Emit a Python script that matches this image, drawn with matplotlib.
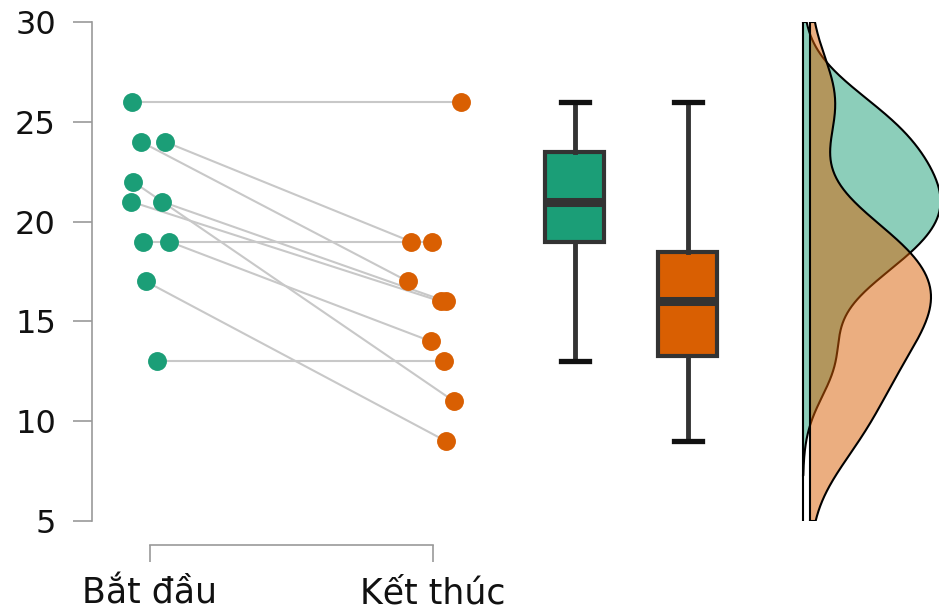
import numpy as np
import matplotlib
matplotlib.use("Agg")
import matplotlib.pyplot as plt

# ---- data ----
groups = ["Bắt đầu", "Kết thúc"]
start_vals = [26, 24, 24, 22, 21, 21, 19, 19, 17, 13]
end_vals = [26, 17, 19, 11, 16, 16, 19, 14, 9, 13]
start_jitter = [-0.064, -0.032, 0.053, -0.060, -0.067, 0.042, -0.025, 0.067, -0.014, 0.025]
end_jitter = [0.099, -0.088, -0.078, 0.074, 0.028, 0.046, -0.004, -0.007, 0.046, 0.039]
y_ticks = [5, 10, 15, 20, 25, 30]

green = "#1b9e77"
orange = "#d95f02"

plt.rcParams['font.family'] = ['DejaVu Sans']

fig = plt.figure(figsize=(9.39, 6.12), dpi=100)
W, H = 939, 612
ax = fig.add_axes([92 / W, (H - 521) / H, (939 - 92) / W, (521 - 22) / H])

ppu = 283.0
ax.set_xlim(1 - 58 / ppu, 1 + 789 / ppu)
ax.set_ylim(5, 30)

# paired lines
xs1 = 1 + np.array(start_jitter)
xs2 = 2 + np.array(end_jitter)
for a, b, ya, yb in zip(xs1, xs2, start_vals, end_vals):
    ax.plot([a, b], [ya, yb], color="#c8c8c8", lw=1.5, zorder=1, solid_capstyle="butt")
ax.scatter(xs1, start_vals, s=185, color=green, zorder=3, linewidths=0)
ax.scatter(xs2, end_vals, s=185, color=orange, zorder=3, linewidths=0)

# boxplots
bp = ax.boxplot([start_vals, end_vals], positions=[2.5, 2.9], widths=59 / ppu,
                patch_artist=True, whis=1.5, capwidths=28 / ppu, showfliers=False,
                manage_ticks=False)
for patch, c in zip(bp['boxes'], [green, orange]):
    patch.set_facecolor(c)
    patch.set_edgecolor("#333333")
    patch.set_linewidth(3)
for m in bp['medians']:
    m.set_color("#333333")
    m.set_linewidth(6.5)
    m.set_solid_capstyle("butt")
for w in bp['whiskers']:
    w.set_color("#333333")
    w.set_linewidth(3.5)
for c in bp['caps']:
    c.set_color("#111111")
    c.set_linewidth(3.8)

# half densities
def kde(vals):
    v = np.asarray(vals, float)
    n = len(v)
    q75, q25 = np.percentile(v, [75, 25])
    bw = 0.9 * min(v.std(ddof=1), (q75 - q25) / 1.34) * n ** (-0.2)
    lo = max(v.min() - 3 * bw, 5)
    hi = min(v.max() + 3 * bw, 30)
    g = np.linspace(lo, hi, 400)
    d = np.exp(-0.5 * ((g[:, None] - v[None, :]) / bw) ** 2).sum(1) / (n * bw * np.sqrt(2 * np.pi))
    return g, d

gs, ds = kde(start_vals)
ge, de = kde(end_vals)
k = (121 / ppu) / de.max()
base_g = 1 + 653 / ppu
base_o = 1 + 660 / ppu

# green first (fill + outline), orange on top
ax.fill_betweenx(gs, base_g, base_g + ds * k, facecolor=green, alpha=0.5, lw=0, zorder=2)
ax.plot(np.r_[base_g, base_g + ds * k, base_g], np.r_[gs[0], gs, gs[-1]], color="black", lw=1.5, zorder=2)
ax.plot([base_g, base_g], [5, 30], color="black", lw=1.5, zorder=2)
ax.fill_betweenx(ge, base_o, base_o + de * k, facecolor=orange, alpha=0.5, lw=0, zorder=2.1)
ax.plot(np.r_[base_o, base_o + de * k, base_o], np.r_[ge[0], ge, ge[-1]], color="black", lw=1.5, zorder=2.1)
ax.plot([base_o, base_o], [ge[0], ge[-1]], color="black", lw=1.5, zorder=2.1)

# axes styling
for s in ["top", "right"]:
    ax.spines[s].set_visible(False)
ax.spines["left"].set_bounds(5, 30)
ax.spines["left"].set_color("#999999")
ax.spines["left"].set_linewidth(1.2)
ax.spines["bottom"].set_bounds(1, 2)
ax.spines["bottom"].set_position(("outward", 17))
ax.spines["bottom"].set_color("#999999")
ax.spines["bottom"].set_linewidth(1.2)

ax.set_yticks(y_ticks)
ax.set_yticklabels([str(t) for t in y_ticks])
ax.set_xticks([1, 2])
ax.set_xticklabels(groups)
ax.tick_params(axis="y", length=14, width=1.2, color="#999999", pad=12, labelsize=23, labelcolor="#111111")
ax.tick_params(axis="x", length=12, width=1.2, color="#999999", pad=11, labelsize=25, labelcolor="#111111")

fig.savefig("out.png", dpi=100)
